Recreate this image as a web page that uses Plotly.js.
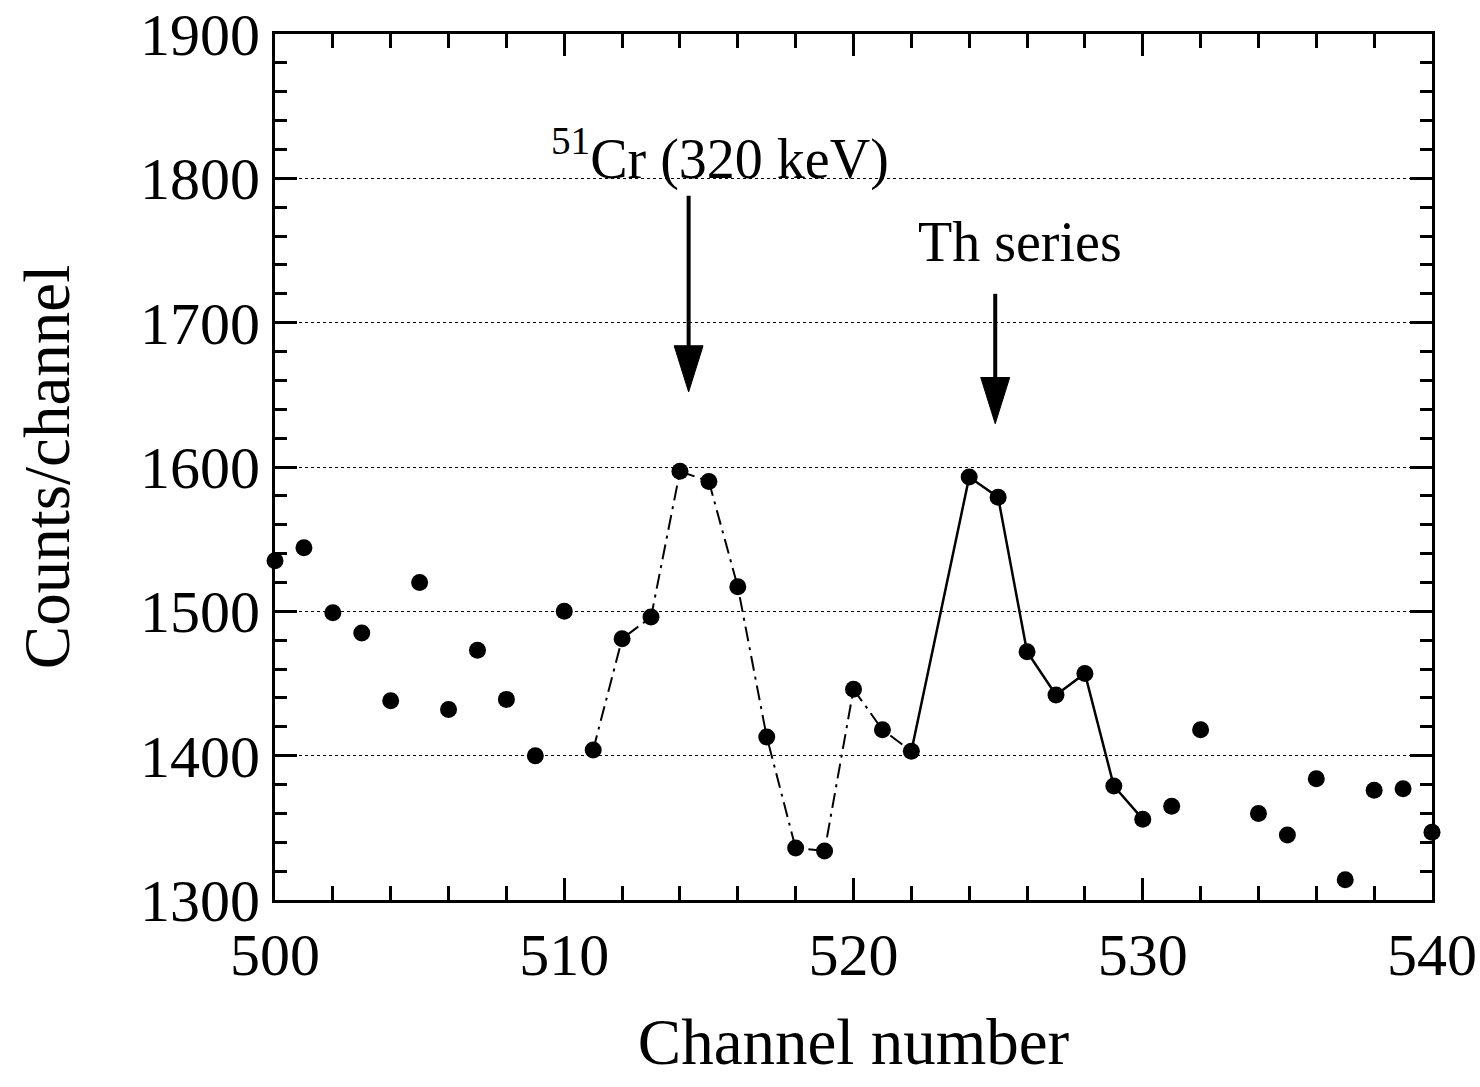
<!DOCTYPE html>
<html>
<head>
<meta charset="utf-8">
<script src="https://cdn.plot.ly/plotly-3.0.1.min.js"></script>
<style>html,body{margin:0;padding:0;background:#fff;}#chart{width:1480px;height:1087px;}</style>
</head>
<body>
<div id="chart"></div>
<script>
// Channel numbers and counts
const channels = [500,501,502,503,504,505,506,507,508,509,510,511,512,513,514,515,516,517,518,519,520,521,522,524,525,526,527,528,529,530,531,532,534,535,536,537,538,539,540];
const counts   = [1535,1544,1499,1485,1438,1520,1432,1473,1439,1400,1500,1404,1481,1496,1597,1590,1517,1413,1336,1334,1446,1418,1403,1593,1579,1472,1442,1457,1379,1356,1365,1418,1360,1345,1384,1314,1376,1377,1347];
// channel ranges joined by the fitted lines
const crFitRange = [511, 522];
const thFitRange = [522, 530];
const xTickVals = [500,510,520,530,540];
const yTickVals = [1300,1400,1500,1600,1700,1800,1900];
// peak markers: channel, arrow tip (counts), arrow tail (counts)
const arrowChannels = [514.3, 524.9];
const arrowTips = [1652, 1630];
const arrowTails = [1788, 1720];
const arrowLabels = ['<sup>51</sup>Cr (320 keV)', 'Th series'];
const labelChannels = [515.4, 525.75];
const labelCounts = [1816, 1756];

function subset(range){
  const xs=[], ys=[];
  channels.forEach((c,i)=>{ if(c>=range[0] && c<=range[1]){ xs.push(c); ys.push(counts[i]); } });
  return {xs, ys};
}
const cr = subset(crFitRange), th = subset(thFitRange);

const font = "Liberation Serif, Times New Roman, serif";
const traces = [
  {x: cr.xs, y: cr.ys, mode:'lines', line:{color:'#000', width:2, dash:'longdashdot'}, hoverinfo:'skip'},
  {x: th.xs, y: th.ys, mode:'lines', line:{color:'#000', width:2.5}, hoverinfo:'skip'},
  {x: channels, y: counts, mode:'markers', marker:{color:'#000', size:17, symbol:'circle'}, cliponaxis:false}
];

// arrow shapes (shaft + filled head), head size in axis units
const headLen = 32, headHalfW = 0.5;
const shapes = [];
arrowChannels.forEach((c,i)=>{
  shapes.push({type:'line', xref:'x', yref:'y', x0:c, x1:c, y0:arrowTails[i], y1:arrowTips[i]+headLen*0.8,
    line:{color:'#000', width:4}});
  shapes.push({type:'path', xref:'x', yref:'y',
    path:`M ${c-headHalfW} ${arrowTips[i]+headLen} L ${c+headHalfW} ${arrowTips[i]+headLen} L ${c} ${arrowTips[i]} Z`,
    fillcolor:'#000', line:{color:'#000', width:1}});
});

const axisCommon = {
  showline:true, linecolor:'#000', linewidth:3, mirror:'allticks',
  ticks:'inside', tickcolor:'#000', tickwidth:3,
  zeroline:false, ticklabeloverflow:'allow',
  tickfont:{family:font, size:60, color:'#000'}
};

const layout = {
  width:1480, height:1087,
  margin:{l:275, r:48, t:34, b:187},
  paper_bgcolor:'#fff', plot_bgcolor:'#fff',
  showlegend:false,
  xaxis: Object.assign({}, axisCommon, {
    range:[500,540], tickmode:'array', tickvals:xTickVals, ticklen:22,
    showgrid:false,
    minor:{dtick:2, ticks:'inside', ticklen:14, tickwidth:3, tickcolor:'#000', showgrid:false},
    title:{text:'Channel number', font:{family:font, size:65, color:'#000'}, standoff:32}
  }),
  yaxis: Object.assign({}, axisCommon, {
    range:[1300,1900], tickmode:'array', tickvals:yTickVals, ticklen:22,
    showgrid:true, gridcolor:'#000', gridwidth:1, griddash:'dot',
    minor:{dtick:20, ticks:'inside', ticklen:12, tickwidth:3, tickcolor:'#000', showgrid:false},
    title:{text:'Counts/channel', font:{family:font, size:65, color:'#000'}, standoff:50}
  }),
  shapes: shapes,
  annotations: arrowLabels.map((t,i)=>({x:labelChannels[i], y:labelCounts[i], xref:'x', yref:'y', text:t,
     showarrow:false, font:{family:font, size:56, color:'#000'}}))
};

Plotly.newPlot('chart', traces, layout, {staticPlot:true, displayModeBar:false});
</script>
</body>
</html>
